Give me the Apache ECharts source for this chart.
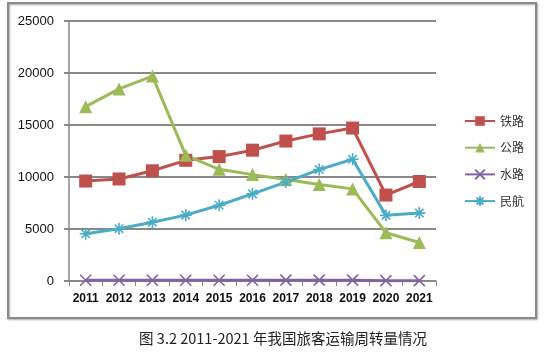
<!DOCTYPE html>
<html>
<head>
<meta charset="utf-8">
<script src="https://cdn.jsdelivr.net/npm/echarts@6/dist/echarts.min.js"></script>
<style>
html,body{margin:0;padding:0;background:#fff;}
#chart{width:550px;height:355px;}
</style>
</head>
<body>
<div id="chart"></div>
<script>
var years = ['2011','2012','2013','2014','2015','2016','2017','2018','2019','2020','2021'];
var railway = [9612, 9812, 10596, 11605, 11961, 12579, 13457, 14147, 14707, 8266, 9568];
var road = [16760, 18468, 19706, 12084, 10743, 10229, 9765, 9280, 8857, 4641, 3700];
var waterway = [74, 77, 68, 74, 73, 72, 78, 80, 80, 33, 33];
var aviation = [4537, 5025, 5657, 6334, 7283, 8378, 9513, 10712, 11705, 6311, 6530];
var seriesNames = ['铁路', '公路', '水路', '民航'];
var caption = '图 3.2 2011-2021 年我国旅客运输周转量情况';

var colors = ['#C0504D', '#9BBB59', '#8064A2', '#4BACC6'];
var crossPath = 'path://M0,0L10,10M10,0L0,10';
var starPath = 'path://M5,0L5,10M0,5L10,5M1.5,1.5L8.5,8.5M8.5,1.5L1.5,8.5';

function mk(name, data, color, symbol, size, stroke) {
  return {
    name: name, type: 'line', data: data, symbol: symbol, symbolSize: size,
    showAllSymbol: true,
    lineStyle: {color: color, width: 3},
    itemStyle: stroke ? {color: color, borderColor: color, borderWidth: 1.6} : {color: color, borderWidth: 0},
    emphasis: {disabled: true},
    z: 3
  };
}

var chart = echarts.init(document.getElementById('chart'), null, {renderer: 'canvas'});
chart.setOption({
  animation: false,
  color: colors,
  grid: {left: 69, right: 114, top: 21, bottom: 74},
  xAxis: {
    type: 'category', data: years, boundaryGap: true,
    axisLine: {lineStyle: {color: '#888', width: 1.5}},
    axisTick: {show: true, interval: 0, length: 5, lineStyle: {color: '#888'}},
    axisLabel: {interval: 0, margin: 12, color: '#111', fontSize: 12, fontWeight: 'bold', fontFamily: 'Liberation Sans'}
  },
  yAxis: {
    type: 'value', min: 0, max: 25000, interval: 5000,
    axisLine: {show: true, lineStyle: {color: '#888', width: 1.5}},
    axisTick: {show: true, length: 5, lineStyle: {color: '#888', width: 2}},
    splitLine: {lineStyle: {color: '#888', width: 2}},
    axisLabel: {margin: 15, color: '#111', fontSize: 13, fontFamily: 'Liberation Sans',
      formatter: function (v) { return String(v); }}
  },
  legend: {
    orient: 'vertical', left: 459, top: 110, itemWidth: 30, itemHeight: 12, itemGap: 14.7,
    data: seriesNames,
    textStyle: {color: '#333', fontSize: 12, fontFamily: 'Noto Sans CJK SC'}
  },
  series: [
    mk(seriesNames[0], railway, colors[0], 'rect', 13, false),
    mk(seriesNames[1], road, colors[1], 'triangle', 13, false),
    mk(seriesNames[2], waterway, colors[2], crossPath, 11, true),
    mk(seriesNames[3], aviation, colors[3], starPath, 12, true)
  ],
  graphic: [
    {type: 'rect', shape: {x: 8, y: 3, width: 528, height: 315}, z: -1,
     style: {fill: 'none', stroke: '#8a8a8a', lineWidth: 2, shadowBlur: 2, shadowOffsetX: 1, shadowOffsetY: 1, shadowColor: 'rgba(0,0,0,0.35)'}},
    {type: 'text', x: 283, y: 338,
     style: {text: caption, textAlign: 'center', textVerticalAlign: 'middle', fill: '#222', fontSize: 14.5, fontFamily: 'Noto Sans CJK SC'}}
  ]
});
</script>
</body>
</html>
